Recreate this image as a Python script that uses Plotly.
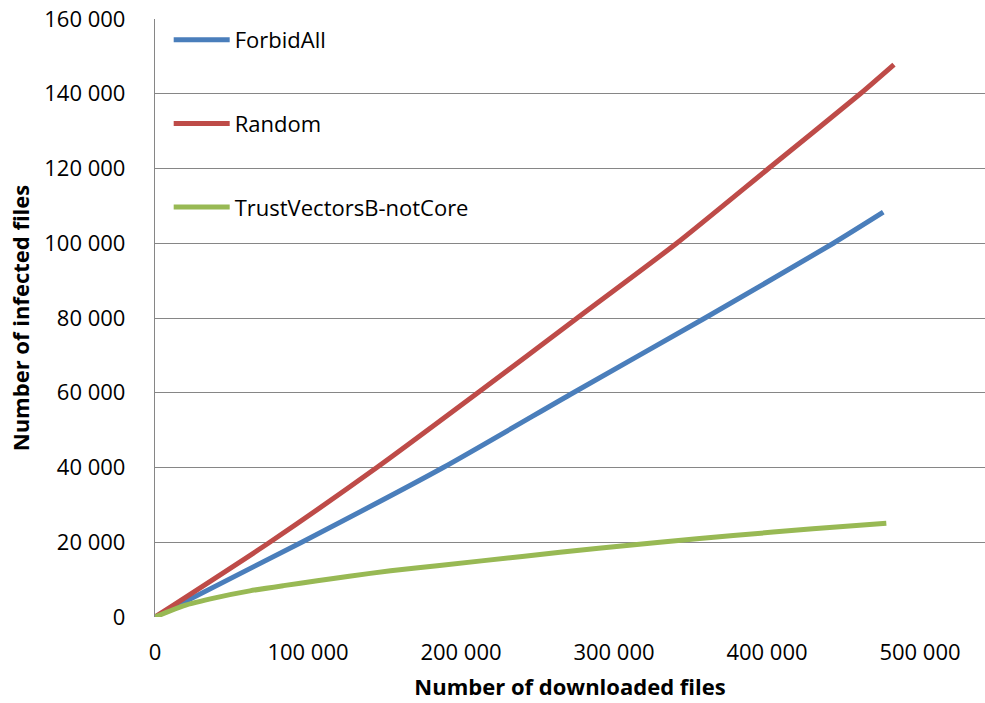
import plotly.graph_objects as go

# ---- data ----
forbid_x = [0, 95900, 188400, 273400, 359500, 443400, 476000]
forbid_y = [0, 20000, 40000, 60000, 80000, 100000, 108300]

random_x = [0, 75000, 145000, 211000, 276000, 341000, 401000, 461000, 483000]
random_y = [0, 20000, 40000, 60000, 80000, 100000, 120000, 140000, 147800]

trust_x = [0, 18500, 40000, 62000, 84000, 106000, 127000, 154000, 186000,
           240000, 290000, 330000, 378000, 430000, 478000]
trust_y = [0, 3000, 5200, 7000, 8400, 9700, 10900, 12400, 13800,
           16200, 18400, 20000, 21800, 23600, 25100]

series_names = ["ForbidAll", "Random", "TrustVectorsB-notCore"]
series_colors = ["#4A7EBB", "#BE4B48", "#98B954"]

x_ticks = [0, 100000, 200000, 300000, 400000, 500000]
y_ticks = [0, 20000, 40000, 60000, 80000, 100000, 120000, 140000, 160000]

x_title = "Number of downloaded files"
y_title = "Number of infected files"

FONT = "Open Sans, sans-serif"

fig = go.Figure()
for name, xs, ys, col in zip(series_names,
                             [forbid_x, random_x, trust_x],
                             [forbid_y, random_y, trust_y],
                             series_colors):
    fig.add_trace(go.Scatter(x=xs, y=ys, mode="lines", name=name,
                             legendgroup=name,
                             line=dict(color=col, width=5, shape="spline",
                                       smoothing=0.6)))

fig.update_layout(
    width=985, height=703,
    margin=dict(l=155, r=0, t=19, b=86),
    paper_bgcolor="white", plot_bgcolor="white",
    separators=", ",
    font=dict(family=FONT, size=22, color="#000000"),
    showlegend=True,
    legend=dict(x=0.0165, y=1.0, xanchor="left", yanchor="top",
                bgcolor="rgba(0,0,0,0)", tracegroupgap=52,
                itemwidth=56,
                font=dict(family=FONT, size=22)),
    xaxis=dict(range=[0, 542500], tickvals=x_ticks, tickformat=",d",
               showgrid=False, zeroline=False, showline=False,
               ticks="", ticklabelstandoff=20,
               title=dict(text="<b>" + x_title + "</b>", standoff=14,
                          font=dict(family=FONT, size=22)),
               automargin=False),
    yaxis=dict(range=[0, 160000], tickvals=y_ticks, tickformat=",d",
               showgrid=True, gridcolor="#868686", gridwidth=1.3,
               zeroline=False, showline=True, linecolor="#868686",
               linewidth=1.3, ticks="", ticklabelstandoff=24,
               title=dict(text="<b>" + y_title + "</b>", standoff=8,
                          font=dict(family=FONT, size=22)),
               automargin=False),
)

fig.write_html("out.html")
